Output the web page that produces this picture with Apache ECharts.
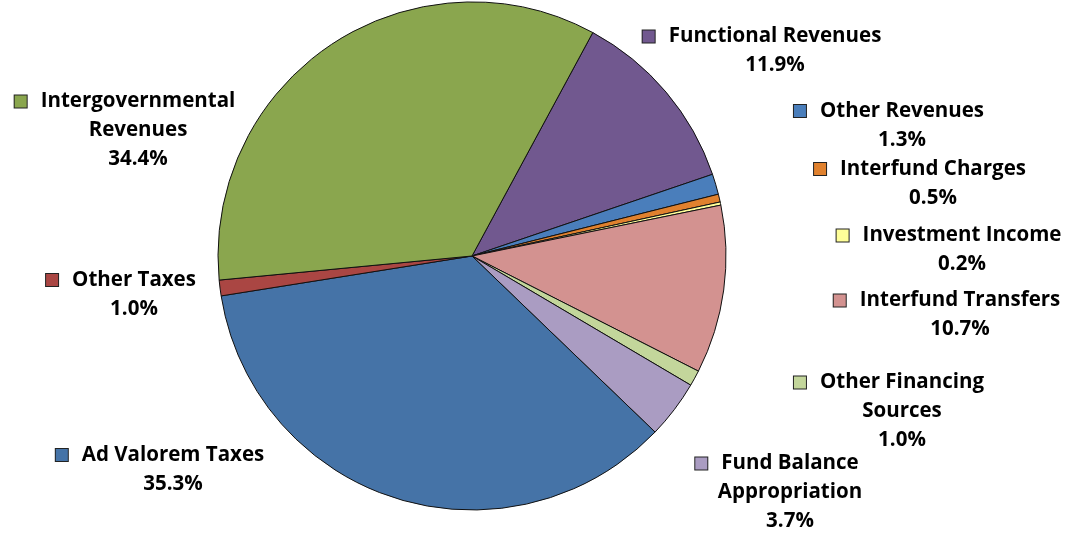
<!DOCTYPE html>
<html>
<head>
<meta charset="utf-8">
<script src="https://cdn.jsdelivr.net/npm/echarts@6/dist/echarts.min.js"></script>
<style>html,body{margin:0;padding:0;background:#fff;}#c{width:1073px;height:535px;}</style>
</head>
<body>
<div id="c"></div>
<script>
var categories = ['Functional Revenues','Other Revenues','Interfund Charges','Investment Income','Interfund Transfers','Other Financing Sources','Fund Balance Appropriation','Ad Valorem Taxes','Other Taxes','Intergovernmental Revenues'];
var values = [11.9, 1.3, 0.5, 0.2, 10.7, 1.0, 3.7, 35.3, 1.0, 34.4];
var colors = ['#71588F','#4A7EBB','#E0812E','#FFFF99','#D39290','#C3D69B','#AA9CC2','#4573A7','#AA4643','#8AA64E'];
var wrapped = ['Other Financing Sources','Fund Balance Appropriation','Intergovernmental Revenues'];
// label block centres (layout only)
var labelPos = [[775,51],[902,125.5],[933,183.5],[962,250],[960,315],[902,411.5],[790,492.5],[173,469.5],[134,294.5],[138,130.5]];

var FONT = 'Open Sans';
function richFor(color){
  return {
    box:{width:12,height:12,backgroundColor:color,borderColor:'#222',borderWidth:1},
    gap:{width:14},
    pad:{width:26},
    t:{fontFamily:FONT,fontWeight:'bold',fontSize:20.5,color:'#000',lineHeight:29}
  };
}
var data = categories.map(function(n,i){
  return {name:n,value:values[i],itemStyle:{color:colors[i]},label:{rich:richFor(colors[i])}};
});
var chart = echarts.init(document.getElementById('c'));
chart.setOption({
  backgroundColor:'#fff',
  animation:false,
  series:[{
    type:'pie',
    center:[472,256],
    radius:254,
    startAngle:61.6,
    clockwise:true,
    avoidLabelOverlap:false,
    data:data,
    itemStyle:{borderColor:'#111',borderWidth:1},
    labelLine:{show:false},
    label:{
      show:true,
      position:'outside',
      align:'center',
      lineHeight:29,
      fontFamily:FONT,fontWeight:'bold',fontSize:20.5,color:'#000',
      formatter:function(p){
        var name = p.name, lines;
        if (wrapped.indexOf(name) >= 0){
          var k = name.lastIndexOf(' ');
          lines = [name.slice(0,k), name.slice(k+1)];
        } else lines = [name];
        var s = '{box|}{gap|}{t|' + lines[0] + '}{pad|}';
        for (var i=1;i<lines.length;i++) s += '\n{t|' + lines[i] + '}';
        s += '\n{t|' + p.value.toFixed(1) + '%}';
        return s;
      }
    },
    labelLayout:function(params){
      var pos = labelPos[params.dataIndex];
      return {x:pos[0], y:pos[1], align:'center', verticalAlign:'middle'};
    }
  }]
});
</script>
</body>
</html>
